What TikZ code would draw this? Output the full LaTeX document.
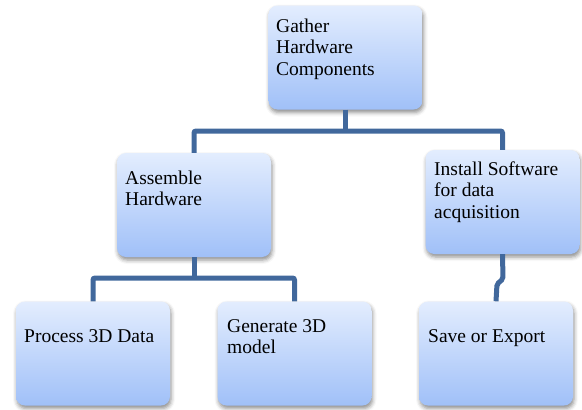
\documentclass[tikz,border=0pt]{standalone}
\usepackage{fontspec}
\setmainfont{Liberation Serif}
\usetikzlibrary{shadows.blur}
\definecolor{boxtop}{HTML}{E3EDFE}
\definecolor{boxbottom}{HTML}{A0C0F8}
\definecolor{linkblue}{HTML}{41689C}
\tikzset{
  stepbox/.style={rectangle, rounded corners=9pt, minimum width=154pt, minimum height=104pt,
    top color=boxtop, bottom color=boxbottom, draw=none,
    blur shadow={shadow xshift=1pt, shadow yshift=-3pt, shadow blur radius=4pt, shadow opacity=45}},
  label/.style={anchor=base west, inner sep=0pt, align=left, font=\fontsize{19.5}{21.5}\selectfont},
  conn/.style={draw=linkblue, line width=5pt, rounded corners=2pt}
}
\begin{document}
\begin{tikzpicture}[x=1pt,y=-1pt]
\useasboundingbox (0,0) rectangle (582,410);
% boxes
\node[stepbox] (gather)   at (345.5,57.5) {};
\node[stepbox] (assemble) at (194,205) {};
\node[stepbox] (install)  at (502.5,202) {};
\node[stepbox] (process)  at (93,353.5) {};
\node[stepbox] (generate) at (294.5,353.5) {};
\node[stepbox] (save)     at (496,353.5) {};
% texts (anchored at the baseline of their last line)
\node[label] (tgather)   at (276,75)    {Gather\\Hardware\\Components};
\node[label] (tassemble) at (125,205.5) {Assemble\\Hardware};
\node[label] (tinstall)  at (434,218)   {Install Software\\for data\\acquisition};
\node[label] (tprocess)  at (24,342)    {Process 3D Data};
\node[label] (tgenerate) at (227,353.5) {Generate 3D\\model};
\node[label] (tsave)     at (428,342)   {Save or Export};
% junctions
\coordinate (j1) at (0,131);
\coordinate (j2) at (0,278);
% connectors
\draw[conn] (gather.south) -- (gather.south |- j1);
\draw[conn] (assemble.north) -- (assemble.north |- j1) -- (install.north |- j1) -- (install.north);
\draw[conn] (assemble.south) -- (assemble.south |- j2);
\draw[conn] (process.north) -- (process.north |- j2) -- (generate.north |- j2) -- (generate.north);
\draw[conn] (install.south) -- (503,279) -- (497,284) -- (save.north);
\end{tikzpicture}
\end{document}
